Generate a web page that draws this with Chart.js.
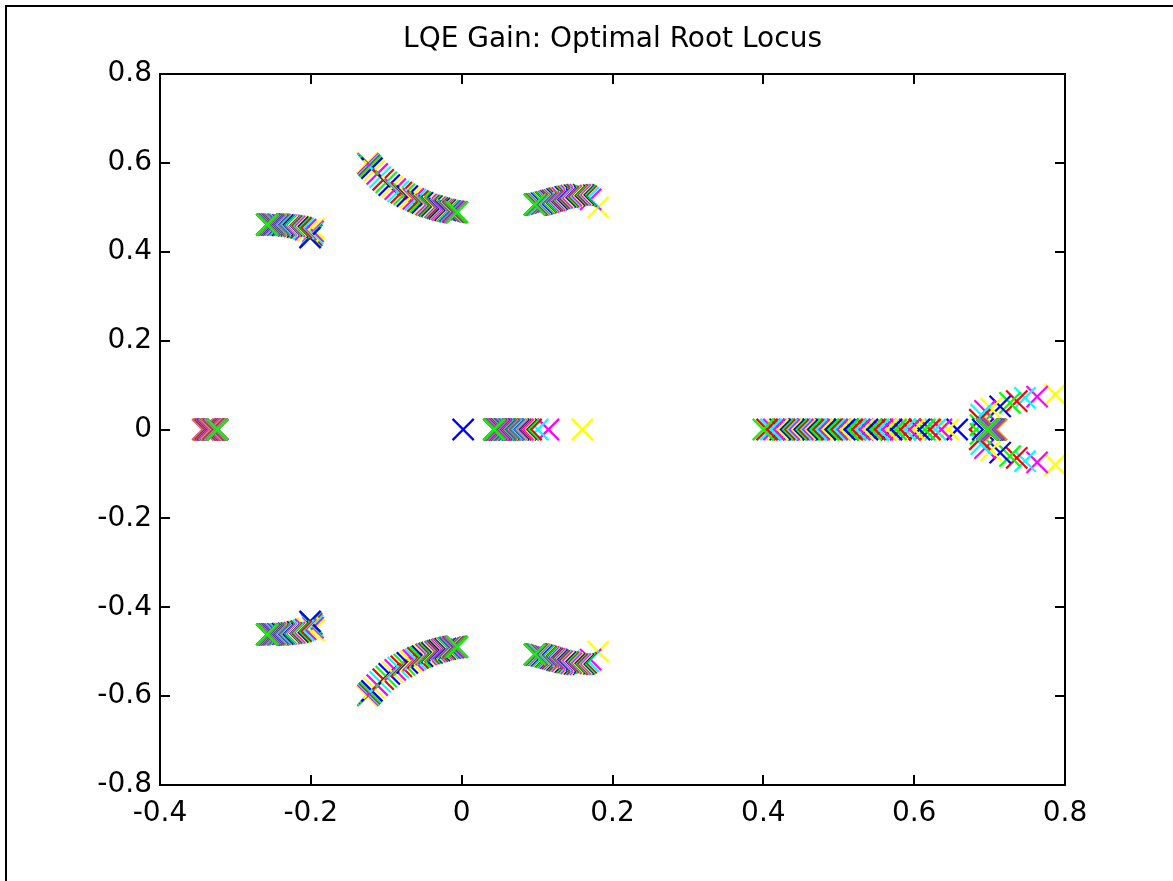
<!DOCTYPE html>
<html>
<head>
<meta charset="utf-8">
<script src="https://cdn.jsdelivr.net/npm/chart.js@4/dist/chart.umd.min.js"></script>
<style>
html,body{margin:0;padding:0;background:#fff;}
canvas{display:block;}
</style>
</head>
<body>
<canvas id="c" width="1173" height="881"></canvas>
<script>
// ---------------- data ----------------
const chartTitle = 'LQE Gain: Optimal Root Locus';
const xTickLabels = ['-0.4', '-0.2', '0', '0.2', '0.4', '0.6', '0.8'];
const yTickLabels = ['-0.8', '-0.6', '-0.4', '-0.2', '0', '0.2', '0.4', '0.6', '0.8'];
const markerColors = ['#ffff00', '#ff00ff', '#00ffff', '#ff0000', '#00ff00', '#0000ff'];

// real pole near -0.33 (one value per gain step)
const leftRealRe = [
  -0.344,-0.343,-0.342,-0.341,-0.340,-0.339,-0.338,-0.338,-0.337,-0.337,
  -0.336,-0.336,-0.335,-0.335,-0.334,-0.334,-0.333,-0.333,-0.333,-0.332,
  -0.332,-0.332,-0.331,-0.331,-0.331,-0.330,-0.330,-0.330,-0.329,-0.329,
  -0.329,-0.329,-0.328,-0.328,-0.328,-0.328,-0.327,-0.327,-0.327,-0.327,
  -0.326,-0.326,-0.326,-0.326,-0.326,-0.325,-0.325,-0.325,-0.325,-0.325,
  -0.325,-0.324,-0.324,-0.324,-0.324,-0.324,-0.324,-0.324,-0.324,-0.324,
  -0.324,-0.324,-0.324,-0.324,-0.324
];

// complex pair near (-0.23, ±0.46)
const leftPairRe = [
  -0.196,-0.197,-0.198,-0.199,-0.200,-0.201,-0.204,-0.207,-0.210,-0.213,
  -0.216,-0.218,-0.220,-0.222,-0.224,-0.226,-0.228,-0.230,-0.231,-0.233,
  -0.234,-0.236,-0.237,-0.238,-0.240,-0.241,-0.242,-0.243,-0.244,-0.245,
  -0.246,-0.247,-0.248,-0.249,-0.249,-0.250,-0.251,-0.251,-0.252,-0.252,
  -0.253,-0.253,-0.254,-0.254,-0.254,-0.255,-0.255,-0.255,-0.256,-0.256,
  -0.256,-0.256,-0.257,-0.257,-0.257,-0.257,-0.257,-0.258,-0.258,-0.258,
  -0.258,-0.258,-0.258,-0.258,-0.258
];
const leftPairIm = [
  0.452,0.446,0.441,0.437,0.434,0.432,0.447,0.450,0.452,0.454,
  0.455,0.456,0.457,0.457,0.458,0.458,0.459,0.459,0.459,0.460,
  0.460,0.460,0.460,0.460,0.461,0.461,0.461,0.461,0.461,0.461,
  0.461,0.461,0.461,0.461,0.461,0.461,0.461,0.461,0.461,0.461,
  0.461,0.461,0.461,0.461,0.461,0.461,0.461,0.461,0.461,0.461,
  0.461,0.461,0.461,0.461,0.461,0.461,0.461,0.461,0.461,0.461,
  0.461,0.461,0.461,0.461,0.461
];

// complex pair on the arc (-0.12, ±0.60) -> (-0.01, ±0.49)
const arcPairRe = [
  -0.125,-0.124,-0.123,-0.122,-0.121,-0.119,-0.116,-0.112,-0.108,-0.104,
  -0.100,-0.096,-0.092,-0.088,-0.084,-0.080,-0.076,-0.072,-0.068,-0.064,
  -0.061,-0.058,-0.055,-0.052,-0.049,-0.047,-0.045,-0.043,-0.041,-0.039,
  -0.037,-0.035,-0.033,-0.032,-0.030,-0.029,-0.027,-0.026,-0.024,-0.023,
  -0.022,-0.021,-0.019,-0.018,-0.017,-0.016,-0.015,-0.014,-0.013,-0.012,
  -0.011,-0.011,-0.010,-0.010,-0.009,-0.009,-0.008,-0.008,-0.008,-0.007,
  -0.007,-0.007,-0.006,-0.006,-0.006
];
const arcPairIm = [
  0.600,0.598,0.596,0.594,0.592,0.588,0.582,0.575,0.568,0.562,
  0.556,0.550,0.546,0.541,0.536,0.533,0.529,0.525,0.522,0.519,
  0.517,0.514,0.512,0.510,0.507,0.506,0.505,0.504,0.503,0.502,
  0.501,0.500,0.499,0.498,0.497,0.497,0.496,0.495,0.495,0.494,
  0.494,0.493,0.493,0.492,0.492,0.491,0.491,0.491,0.490,0.490,
  0.490,0.490,0.490,0.489,0.489,0.489,0.489,0.489,0.489,0.489,
  0.489,0.489,0.489,0.489,0.489
];

// complex pair near (0.13, ±0.52)
const rightPairRe = [
  0.181,0.171,0.168,0.165,0.163,0.161,0.159,0.157,0.155,0.153,
  0.151,0.149,0.147,0.145,0.143,0.141,0.139,0.137,0.135,0.133,
  0.131,0.129,0.127,0.126,0.124,0.123,0.121,0.120,0.118,0.117,
  0.116,0.115,0.113,0.112,0.111,0.110,0.109,0.108,0.107,0.106,
  0.105,0.105,0.104,0.103,0.103,0.102,0.102,0.101,0.101,0.100,
  0.100,0.099,0.099,0.099,0.098,0.098,0.098,0.098,0.097,0.097,
  0.097,0.097,0.097,0.097,0.097
];
const rightPairIm = [
  0.500,0.518,0.522,0.525,0.527,0.528,0.528,0.528,0.528,0.528,
  0.527,0.527,0.526,0.526,0.525,0.524,0.524,0.523,0.522,0.521,
  0.520,0.520,0.519,0.518,0.517,0.516,0.516,0.515,0.514,0.514,
  0.513,0.512,0.512,0.511,0.511,0.510,0.510,0.509,0.509,0.508,
  0.508,0.508,0.507,0.507,0.507,0.507,0.506,0.506,0.506,0.506,
  0.506,0.506,0.506,0.506,0.506,0.506,0.506,0.506,0.506,0.506,
  0.506,0.506,0.506,0.506,0.506
];

// real pole near 0.04 .. 0.16
const midRealRe = [
  0.160,0.115,0.101,0.092,0.088,0.085,0.083,0.081,0.079,0.078,
  0.076,0.075,0.073,0.072,0.071,0.069,0.068,0.067,0.066,0.065,
  0.064,0.063,0.062,0.061,0.060,0.059,0.058,0.058,0.057,0.056,
  0.055,0.055,0.054,0.053,0.053,0.052,0.051,0.051,0.050,0.050,
  0.049,0.049,0.048,0.048,0.047,0.047,0.047,0.046,0.046,0.046,
  0.045,0.045,0.045,0.045,0.044,0.044,0.044,0.044,0.044,0.043,
  0.043,0.043,0.043,0.043,0.043
];

// far-right pair: complex (±im) for the first steps, then two real poles
const farPairRe = [
  0.787,0.763,0.747,0.736,0.727,0.714,0.702,0.694,0.689,0.687,
  0.688,0.691,0.695,0.699,0.703,0.706,0.708,0.709,0.709,0.708,
  0.707,0.706,0.705,0.704,0.703,0.703,0.702,0.702,0.701,0.701,
  0.700,0.700,0.700,0.699,0.699,0.699,0.699,0.698,0.698,0.698,
  0.698,0.698,0.698,0.697,0.697,0.697,0.697,0.697,0.697,0.697,
  0.697,0.697,0.697,0.697,0.697,0.697,0.697,0.697,0.697,0.697,
  0.697,0.697,0.697,0.697,0.697
];
const farPairIm = [
  0.079,0.074,0.071,0.064,0.060,0.052,0.047,0.042,0.033,0.022,
  0.010,0,0,0,0,0,0,0,0,0,
  0,0,0,0,0,0,0,0,0,0,
  0,0,0,0,0,0,0,0,0,0,
  0,0,0,0,0,0,0,0,0,0,
  0,0,0,0,0,0,0,0,0,0,
  0,0,0,0,0
];
// real pole travelling left along the axis after the break-away (from step 11)
const chainStartStep = 11;
const chainRe = [
  0.657,0.645,0.636,0.628,0.621,0.614,0.607,0.600,0.594,0.588,
  0.582,0.576,0.570,0.564,0.558,0.553,0.548,0.543,0.538,0.533,
  0.528,0.523,0.518,0.513,0.508,0.503,0.498,0.494,0.490,0.486,
  0.482,0.478,0.474,0.470,0.466,0.462,0.458,0.455,0.452,0.449,
  0.446,0.443,0.440,0.437,0.434,0.431,0.428,0.425,0.422,0.419,
  0.414,0.410,0.405,0.400
];
// single stray pole at the origin
const strayStep = [5];
const strayRe = [0.002];
const strayIm = [0];

// ---------------- build datasets ----------------
const nSteps = leftRealRe.length;
const datasets = [];
for (let i = 0; i < nSteps; i++) {
  const pts = [];
  pts.push({x: leftRealRe[i], y: 0});
  pts.push({x: leftPairRe[i], y: leftPairIm[i]}, {x: leftPairRe[i], y: -leftPairIm[i]});
  pts.push({x: arcPairRe[i], y: arcPairIm[i]}, {x: arcPairRe[i], y: -arcPairIm[i]});
  pts.push({x: rightPairRe[i], y: rightPairIm[i]}, {x: rightPairRe[i], y: -rightPairIm[i]});
  pts.push({x: midRealRe[i], y: 0});
  pts.push({x: farPairRe[i], y: farPairIm[i]});
  if (farPairIm[i] !== 0) {
    pts.push({x: farPairRe[i], y: -farPairIm[i]});
  } else if (chainRe[i - chainStartStep] !== undefined) {
    pts.push({x: chainRe[i - chainStartStep], y: 0});
  }
  strayStep.forEach((s, k) => { if (s === i) pts.push({x: strayRe[k], y: strayIm[k]}); });
  const col = markerColors[i % markerColors.length];
  datasets.push({
    data: pts,
    showLine: false,
    pointStyle: 'crossRot',
    pointRadius: 15,
    pointHoverRadius: 15,
    pointBorderWidth: 2.2,
    pointBorderColor: col,
    borderColor: col,
    pointBackgroundColor: 'rgba(0,0,0,0)',
    backgroundColor: 'rgba(0,0,0,0)',
    clip: false,
    order: nSteps - 1 - i
  });
}

// ---------------- plugins ----------------
const FONT = '"DejaVu Sans", "Liberation Sans", Arial, sans-serif';
const framePlugin = {
  id: 'matlabFrame',
  beforeDraw(chart) {
    const ctx = chart.ctx;
    ctx.save();
    ctx.fillStyle = '#fff';
    ctx.fillRect(0, 0, chart.width, chart.height);
    ctx.fillStyle = '#000';
    ctx.fillRect(5, 5, chart.width - 5, 2);
    ctx.fillRect(5, 5, 2, chart.height - 5);
    ctx.restore();
  },
  afterDatasetsDraw(chart) {
    const ctx = chart.ctx;
    const a = chart.chartArea;
    const xs = chart.scales.x, ys = chart.scales.y;
    const tl = 10;
    ctx.save();
    ctx.strokeStyle = '#000';
    ctx.lineWidth = 2;
    ctx.strokeRect(a.left, a.top, a.right - a.left, a.bottom - a.top);
    ctx.beginPath();
    xs.ticks.forEach(t => {
      const px = Math.round(xs.getPixelForValue(t.value));
      ctx.moveTo(px, a.bottom); ctx.lineTo(px, a.bottom - tl);
      ctx.moveTo(px, a.top); ctx.lineTo(px, a.top + tl);
    });
    ys.ticks.forEach(t => {
      const py = Math.round(ys.getPixelForValue(t.value));
      ctx.moveTo(a.left, py); ctx.lineTo(a.left + tl, py);
      ctx.moveTo(a.right, py); ctx.lineTo(a.right - tl, py);
    });
    ctx.stroke();
    ctx.restore();
  }
};

new Chart(document.getElementById('c'), {
  type: 'scatter',
  data: { datasets },
  options: {
    responsive: false,
    animation: false,
    devicePixelRatio: 1,
    events: [],
    layout: { padding: { left: 0, right: 108, top: 0, bottom: 0 } },
    plugins: {
      legend: { display: false },
      tooltip: { enabled: false },
      title: {
        display: true,
        text: chartTitle,
        fullSize: false,
        color: '#000',
        font: { family: FONT, size: 28, weight: 'normal', lineHeight: 1.2 },
        padding: { top: 23, bottom: 17.4 }
      }
    },
    scales: {
      x: {
        type: 'linear',
        position: 'bottom',
        min: -0.4, max: 0.8,
        grid: { display: false, drawTicks: false },
        border: { display: false },
        afterFit(s) { s.height = 96; },
        ticks: {
          stepSize: 0.2,
          autoSkip: false,
          maxRotation: 0,
          padding: 12,
          color: '#000',
          font: { family: FONT, size: 28 },
          callback: (v, i) => xTickLabels[i]
        }
      },
      y: {
        type: 'linear',
        position: 'left',
        min: -0.8, max: 0.8,
        grid: { display: false, drawTicks: false },
        border: { display: false },
        afterFit(s) { s.width = 160; },
        ticks: {
          stepSize: 0.2,
          autoSkip: false,
          padding: 8,
          color: '#000',
          font: { family: FONT, size: 28 },
          callback: (v, i) => yTickLabels[i]
        }
      }
    }
  },
  plugins: [framePlugin]
});
</script>
</body>
</html>
